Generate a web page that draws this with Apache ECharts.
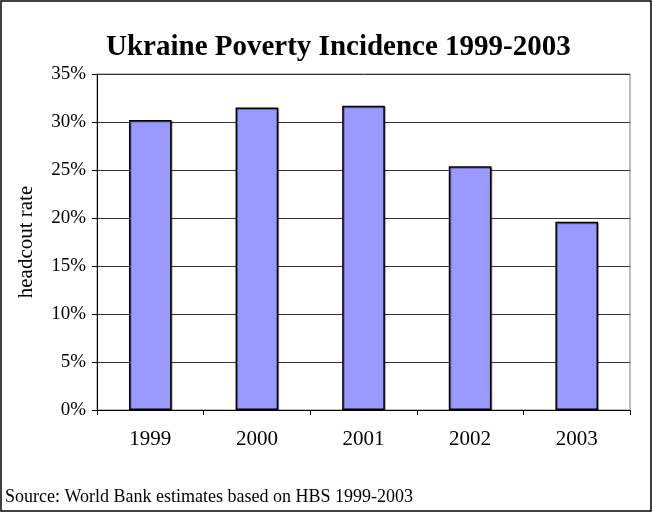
<!DOCTYPE html>
<html><head><meta charset="utf-8">
<script src="https://cdn.jsdelivr.net/npm/echarts@6/dist/echarts.min.js"></script>
<style>html,body{margin:0;padding:0;background:#fff}#c{width:652px;height:512px}</style>
</head><body><div id="c"></div>
<script>
const titleText = "Ukraine Poverty Incidence 1999-2003";
const categories = ["1999", "2000", "2001", "2002", "2003"];
const headcountRate = [30.2, 31.5, 31.7, 25.4, 19.6];
const yTicks = [0, 5, 10, 15, 20, 25, 30, 35];
const yAxisName = "headcout rate";
const sourceText = "Source: World Bank estimates based on HBS 1999-2003";

const serif = "'Liberation Serif','Times New Roman',serif";
const chart = echarts.init(document.getElementById('c'), null, {renderer: 'canvas'});
chart.setOption({
  animation: false,
  backgroundColor: '#fff',
  title: {
    text: titleText, left: 101, top: 28,
    textStyle: {fontFamily: serif, fontWeight: 'bold', fontSize: 29, color: '#000'}
  },
  grid: {left: 97, right: 22, top: 74, bottom: 102, show: true, borderColor: '#808080', borderWidth: 1},
  xAxis: {
    type: 'category', data: categories,
    axisLine: {lineStyle: {color: '#000', width: 1}},
    axisTick: {show: true, length: 5, lineStyle: {color: '#000'}},
    axisLabel: {fontFamily: serif, fontSize: 21, color: '#000', margin: 19}
  },
  yAxis: {
    type: 'value', min: yTicks[0], max: yTicks[yTicks.length - 1], interval: 5,
    name: yAxisName, nameLocation: 'middle', nameGap: 60, nameRotate: 90,
    nameTextStyle: {fontFamily: serif, fontSize: 21, color: '#000'},
    axisLine: {show: true, lineStyle: {color: '#000', width: 1}},
    axisTick: {show: true, length: 5, lineStyle: {color: '#000'}},
    axisLabel: {fontFamily: serif, fontSize: 19, color: '#000', margin: 11, formatter: v => v + '%'},
    splitLine: {lineStyle: {color: '#333', width: 1}}
  },
  series: [{
    type: 'bar', data: headcountRate, barWidth: '40%',
    itemStyle: {color: '#9999FF', borderColor: '#000', borderWidth: 1.5,
      shadowColor: 'rgba(0,0,0,0.35)', shadowBlur: 0, shadowOffsetX: 1, shadowOffsetY: 1}
  }],
  graphic: [
    {type: 'rect', shape: {x: 1, y: 1, width: 650, height: 510}, style: {fill: 'none', stroke: '#000', lineWidth: 1.5}, silent: true},
    {type: 'text', left: 5, top: 488, style: {text: sourceText, font: '18px ' + serif, fill: '#000'}}
  ]
});
</script></body></html>
